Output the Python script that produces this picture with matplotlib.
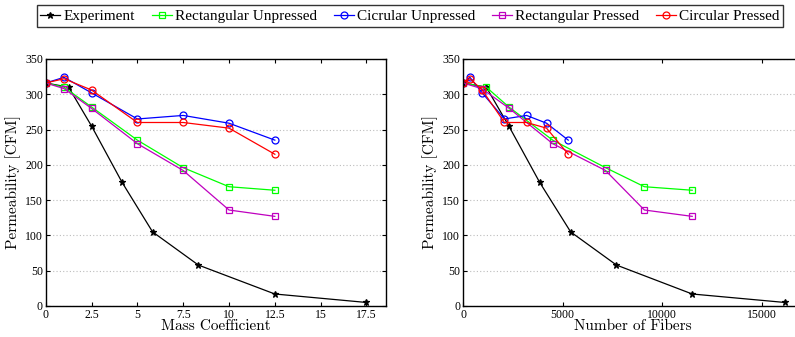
import matplotlib
matplotlib.use("Agg")
import matplotlib.pyplot as plt

plt.rcParams['font.family'] = ['Liberation Serif', 'DejaVu Serif']
plt.rcParams['mathtext.fontset'] = 'cm'

# ---- data ----
series_names = ["Experiment", "Rectangular Unpressed", "Cicrular Unpressed",
                "Rectangular Pressed", "Circular Pressed"]

exp_mass = [0, 1.25, 2.5, 4.17, 5.83, 8.33, 12.5, 17.5]
exp_fib = [0, 1170, 2300, 3850, 5400, 7700, 11500, 16150]
exp_perm = [316, 310, 255, 175, 105, 58, 17, 5]

ru_mass = [0, 1, 2.5, 5, 7.5, 10, 12.5]
ru_fib = [0, 1170, 2300, 4500, 7150, 9100, 11500]
ru_perm = [316, 310, 282, 235, 196, 169, 164]

cu_mass = [0, 1, 2.5, 5, 7.5, 10, 12.5]
cu_fib = [0, 350, 960, 2080, 3190, 4190, 5280]
cu_perm = [316, 324, 302, 265, 270, 259, 235]

rp_mass = [0, 1, 2.5, 5, 7.5, 10, 12.5]
rp_fib = [0, 940, 2320, 4500, 7150, 9100, 11500]
rp_perm = [316, 308, 280, 230, 192, 136, 127]

cp_mass = [0, 1, 2.5, 5, 7.5, 10, 12.5]
cp_fib = [0, 350, 960, 2080, 3190, 4190, 5280]
cp_perm = [316, 322, 306, 260, 260, 252, 215]

left_xticks = [0, 2.5, 5, 7.5, 10, 12.5, 15, 17.5]
left_xticklabels = ["0", "2.5", "5", "7.5", "10", "12.5", "15", "17.5"]
right_xticks = [0, 5000, 10000, 15000]
yticks = [0, 50, 100, 150, 200, 250, 300, 350]

colors = ["black", "#00ff00", "#0000ff", "#bf00bf", "#ff0000"]
markers = ["*", "s", "o", "s", "o"]
msizes = [4.5, 4, 5, 4, 5]

fig = plt.figure(figsize=(7.95, 3.37), dpi=100)
ax1 = fig.add_axes([0.0575, 0.092, 0.4277, 0.733])
ax2 = fig.add_axes([0.5824, 0.092, 0.4262, 0.733])

left_data = [(exp_mass, exp_perm), (ru_mass, ru_perm), (cu_mass, cu_perm),
             (rp_mass, rp_perm), (cp_mass, cp_perm)]
right_data = [(exp_fib, exp_perm), (ru_fib, ru_perm), (cu_fib, cu_perm),
              (rp_fib, rp_perm), (cp_fib, cp_perm)]

handles = []
for i, (x, y) in enumerate(left_data):
    mfc = colors[i] if markers[i] == "*" else "none"
    h, = ax1.plot(x, y, color=colors[i], marker=markers[i], markersize=msizes[i],
                  markerfacecolor=mfc, markeredgecolor=colors[i], linewidth=0.9,
                  markeredgewidth=0.9, label=series_names[i])
    handles.append(h)
for i, (x, y) in enumerate(right_data):
    mfc = colors[i] if markers[i] == "*" else "none"
    ax2.plot(x, y, color=colors[i], marker=markers[i], markersize=msizes[i],
             markerfacecolor=mfc, markeredgecolor=colors[i], linewidth=0.9,
             markeredgewidth=0.9)

ax1.set_xlim(0, 18.55)
ax1.set_xticks(left_xticks)
ax1.set_xticklabels(left_xticklabels)
ax2.set_xlim(0, 17000)
ax2.set_xticks(right_xticks)

for ax in (ax1, ax2):
    ax.set_ylim(0, 350)
    ax.set_yticks(yticks)
    ax.yaxis.grid(True, linestyle=(0, (1, 2)), color="#bdbdbd", linewidth=0.8)
    ax.set_axisbelow(True)
    ax.tick_params(direction="in", top=True, right=True, labelsize=8.5,
                   length=3, width=0.8, pad=2)
    for s in ax.spines.values():
        s.set_linewidth(1.0)
    ax.set_ylabel("Permeability [CFM]", family="cmr10", fontsize=11, labelpad=3)

ax1.set_xlabel("Mass Coefficient", family="cmr10", fontsize=11, labelpad=-1)
ax2.set_xlabel("Number of Fibers", family="cmr10", fontsize=11, labelpad=-1)

leg = fig.legend(handles=handles, loc="upper center", ncol=5,
                 bbox_to_anchor=(0.5157, 0.984), frameon=True, fancybox=False,
                 edgecolor="black", fontsize=11, handlelength=1.3,
                 handletextpad=0.2, columnspacing=1.12, borderpad=0.25,
                 borderaxespad=0.0)
leg.get_frame().set_linewidth(1.0)

fig.savefig("out.png", dpi=100)
